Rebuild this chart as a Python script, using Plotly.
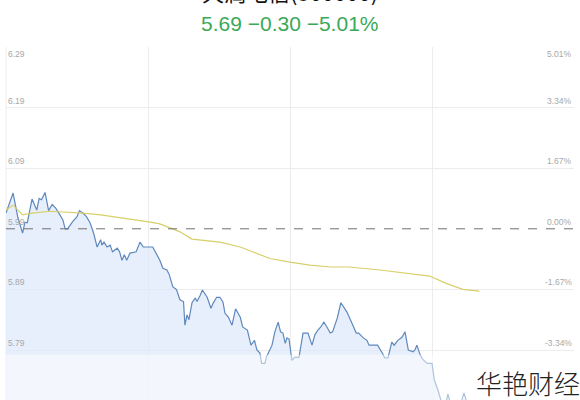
import plotly.graph_objects as go

# Intraday minutes since open (0..240) and price
time_min = [0, 3, 5, 7, 8, 9, 11, 13, 14, 15, 16.5, 18, 19.5, 21, 22, 24, 25, 26, 28, 30, 31, 32.5, 34, 35.5,
            37, 38.5, 40, 40.5, 41.4, 42.7, 44, 45, 47, 48, 49, 50, 51, 52.4, 55, 56.6, 58, 62, 65, 66.3, 68,
            69, 70.5, 72, 73.5, 75, 75.6, 76.5, 77.3, 78.6, 80, 80.7, 82, 83, 85, 86.6, 87.5, 89, 90.4, 91.7,
            92.5, 94, 95.5, 97, 99, 100, 102, 103.5, 105, 106, 107.3, 108, 109.4, 110, 112.4, 113.6, 115, 116,
            117, 118, 118.7, 119.6, 120.8, 122, 123.8, 125.5, 127.6, 129.3, 130.5, 131.8, 133, 134.3, 135.6,
            137, 138, 140, 141.5, 142.8, 144, 146, 148, 149, 151, 152.5, 153.4, 155, 157, 159, 160, 161.4,
            163, 164, 165.6, 167.3, 168.6, 170, 172, 172.8, 173.6, 175, 176, 178, 180, 181, 182.5, 184, 185.5,
            186.7, 188, 190, 192, 193.5, 195, 198, 200]
price = [6.016, 6.049, 6.009, 5.983, 6.001, 6.000, 6.039, 6.021, 6.040, 6.038, 6.050, 6.020, 6.030, 6.024,
         6.018, 6.005, 5.990, 5.990, 6.001, 6.010, 6.020, 6.016, 6.010, 6.000, 5.983, 5.960, 5.972, 5.963,
         5.968, 5.960, 5.963, 5.952, 5.958, 5.952, 5.938, 5.947, 5.938, 5.950, 5.952, 5.968, 5.960, 5.960,
         5.938, 5.925, 5.922, 5.914, 5.894, 5.890, 5.873, 5.870, 5.831, 5.848, 5.840, 5.868, 5.876, 5.870,
         5.880, 5.889, 5.877, 5.859, 5.867, 5.877, 5.877, 5.869, 5.851, 5.844, 5.831, 5.858, 5.844, 5.828,
         5.823, 5.798, 5.806, 5.790, 5.785, 5.768, 5.768, 5.778, 5.798, 5.820, 5.836, 5.820, 5.818, 5.801,
         5.810, 5.808, 5.773, 5.778, 5.778, 5.818, 5.818, 5.798, 5.815, 5.823, 5.828, 5.836, 5.828, 5.818,
         5.820, 5.843, 5.868, 5.859, 5.853, 5.836, 5.818, 5.818, 5.810, 5.806, 5.798, 5.798, 5.798, 5.785,
         5.777, 5.777, 5.803, 5.798, 5.806, 5.811, 5.820, 5.790, 5.787, 5.790, 5.798, 5.782, 5.775, 5.768,
         5.768, 5.740, 5.724, 5.704, 5.695, 5.717, 5.700, 5.690, 5.700, 5.719, 5.700, 5.695, 5.690]

# Average price line
avg_time = [0, 3, 7, 11, 18.6, 26, 32.5, 40, 49.4, 61, 65, 73.5, 78.6, 90.4, 99, 111.5, 120, 128.4, 137,
            145, 158, 179, 186, 193, 200]
avg_price = [6.021, 6.029, 6.013, 6.016, 6.019, 6.018, 6.016, 6.013, 6.008, 6.001, 5.998, 5.985, 5.973,
             5.968, 5.960, 5.941, 5.935, 5.930, 5.927, 5.927, 5.922, 5.912, 5.900, 5.890, 5.887]

prev_close = 5.99
price_ticks = [6.29, 6.19, 6.09, 5.99, 5.89, 5.79]
price_labels = ["6.29", "6.19", "6.09", "5.99", "5.89", "5.79"]
pct_labels = ["5.01%", "3.34%", "1.67%", "0.00%", "-1.67%", "-3.34%"]

title_text = "天润电信(300000)"
quote_text = "5.69 −0.30 −5.01%"
watermark = "华艳财经"

y_min, y_max = 5.7075, 6.29

fig = go.Figure()
fig.add_trace(go.Scatter(x=time_min, y=price, mode="lines",
                         line=dict(color="#5f88bd", width=1.2),
                         fill="tozeroy", fillcolor="rgba(222,233,249,0.75)",
                         hoverinfo="skip"))
fig.add_trace(go.Scatter(x=avg_time, y=avg_price, mode="lines",
                         line=dict(color="#d8cf6a", width=1.2), hoverinfo="skip"))

# dashed previous-close line
fig.add_shape(type="line", xref="paper", x0=0, x1=1, yref="y", y0=prev_close, y1=prev_close,
              line=dict(color="#707070", width=1, dash="dash"), layer="above")
# lighter lower band
fig.add_shape(type="rect", xref="paper", x0=0, x1=1, yref="y", y0=y_min, y1=5.782,
              fillcolor="rgba(255,255,255,0.5)", line=dict(width=0), layer="above")
# left border
fig.add_shape(type="line", xref="paper", x0=0, x1=0, yref="paper", y0=0, y1=1,
              line=dict(color="#eeeeee", width=1), layer="below")

for i, (v, lab, pl) in enumerate(zip(price_ticks, price_labels, pct_labels)):
    ya = "top" if i == 0 else "bottom"
    fig.add_annotation(x=0, xref="paper", xanchor="left", xshift=0, y=v, yref="y", yanchor=ya,
                       text=lab, showarrow=False, font=dict(size=8.5, color="#a8a8a8", family="Liberation Sans"))
    fig.add_annotation(x=1, xref="paper", xanchor="right", xshift=0, y=v, yref="y", yanchor=ya,
                       text=pl, showarrow=False, font=dict(size=8.5, color="#a8a8a8", family="Liberation Sans"))

fig.add_annotation(x=0.5, xref="paper", y=1, yref="paper", yshift=24, yanchor="middle",
                   text=quote_text, showarrow=False,
                   font=dict(size=21, color="#3aa957", family="Liberation Sans"))
fig.add_annotation(x=0.5, xref="paper", y=1, yref="paper", yshift=56, yanchor="middle",
                   text=title_text, showarrow=False,
                   font=dict(size=22, color="#111111", family="Noto Sans CJK SC"))
fig.add_annotation(x=1, xref="paper", xanchor="right", xshift=8, y=0, yref="paper", yshift=-3,
                   yanchor="bottom", text=watermark, showarrow=False,
                   font=dict(size=26, color="#222222", family="Noto Sans CJK SC", weight=300))

fig.update_xaxes(range=[0, 240], tickvals=[60, 120, 180], showticklabels=False, showgrid=True,
                 gridcolor="#ececec", gridwidth=1, zeroline=False, showline=False, fixedrange=True)
fig.update_yaxes(range=[y_min, y_max], tickvals=[6.29, 6.19, 6.09, 5.89, 5.79], showticklabels=False,
                 showgrid=True, gridcolor="#ececec", gridwidth=1, zeroline=False, showline=False)

fig.update_layout(width=580, height=400, margin=dict(l=6, r=6, t=47, b=0),
                  paper_bgcolor="white", plot_bgcolor="white", showlegend=False)

fig.write_html("out.html", config={"displayModeBar": False},
               post_script="document.body.style.margin='0';")
